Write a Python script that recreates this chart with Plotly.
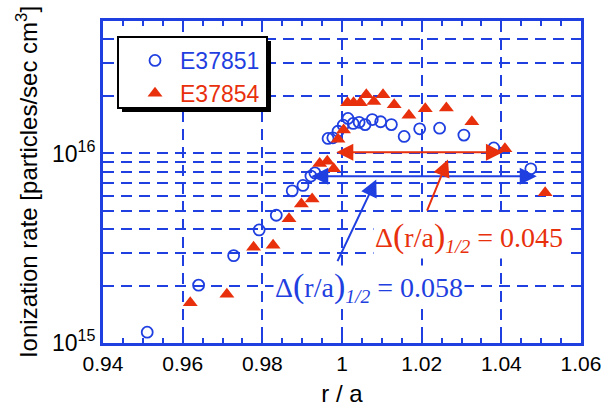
import plotly.graph_objects as go

# ---- data ----
r_e37851 = [0.9511, 0.9640, 0.9728, 0.9792, 0.9835, 0.9875, 0.9902, 0.9922, 0.9932,
            0.9965, 0.9977, 0.9990, 1.0003, 1.0015, 1.0028, 1.0043, 1.0058, 1.0076,
            1.0097, 1.0124, 1.0156, 1.0195, 1.0245, 1.0306, 1.0381, 1.0474]
s_e37851 = [1.14e15, 2.02e15, 2.89e15, 3.95e15, 4.72e15, 6.35e15, 6.78e15, 7.6e15, 7.9e15,
            1.20e16, 1.21e16, 1.31e16, 1.41e16, 1.53e16, 1.44e16, 1.46e16, 1.42e16, 1.51e16,
            1.47e16, 1.42e16, 1.23e16, 1.35e16, 1.36e16, 1.25e16, 1.07e16, 8.3e15]

r_e37854 = [0.9619, 0.9711, 0.9778, 0.9827, 0.9867, 0.9898, 0.9925, 0.9944, 0.9963, 0.9979,
            0.9990, 1.0004, 1.0014, 1.0029, 1.0046, 1.0061, 1.0080, 1.0103, 1.0131, 1.0168,
            1.0209, 1.0262, 1.0326, 1.0409, 1.0510]
s_e37854 = [1.63e15, 1.81e15, 3.20e15, 3.28e15, 4.52e15, 5.42e15, 5.76e15, 8.85e15, 9.1e15, 8.3e15,
            1.19e16, 1.33e16, 1.85e16, 1.85e16, 1.85e16, 2.04e16, 1.88e16, 2.04e16, 1.81e16, 1.59e16,
            1.72e16, 1.74e16, 1.47e16, 1.06e16, 6.2e15]

x_tickvals = [0.94, 0.96, 0.98, 1.00, 1.02, 1.04, 1.06]
x_ticktext = ["0.94", "0.96", "0.98", "1", "1.02", "1.04", "1.06"]
y_tickvals = [1e15, 1e16]
y_ticktext = ["10<sup>15</sup>", "10<sup>16</sup>"]
y_minor = [k * 1e15 for k in range(2, 10)] + [k * 1e16 for k in range(2, 6)]

BLUE = "#1f3fe0"
RED = "#e8300c"

fig = go.Figure()
fig.add_trace(go.Scatter(
    x=r_e37851, y=s_e37851, mode="markers",
    name='<span style="color:%s">E37851</span>' % BLUE,
    marker=dict(symbol="circle-open", size=11, color=BLUE, line=dict(width=1.8, color=BLUE)),
))
fig.add_trace(go.Scatter(
    x=r_e37854, y=s_e37854, mode="markers",
    name='<span style="color:%s">E37854</span>' % RED,
    marker=dict(symbol="triangle-up", size=13, color=RED),
))

W, H = 613, 407
L, R, T, B = 103, 32, 21, 64
pw, ph = W - L - R, H - T - B

def px2paper(x, y):
    return (x - L) / pw, 1 - (y - T) / ph

# legend box + shadow
sx0, sy0 = px2paper(122, 41)
sx1, sy1 = px2paper(271, 112)
bx0, by0 = px2paper(118, 37)
bx1, by1 = px2paper(267, 108)
shapes = [
    dict(type="rect", xref="paper", yref="paper", x0=sx0, x1=sx1, y0=sy1, y1=sy0,
         fillcolor="black", line=dict(width=0), layer="above"),
    dict(type="rect", xref="paper", yref="paper", x0=bx0, x1=bx1, y0=by1, y1=by0,
         fillcolor="white", line=dict(width=2, color="black"), layer="above"),
]

def delta_label(value):
    return ('Δ<span style="font-size:34px">(</span>r/a<span style="font-size:34px">)</span>'
            '<sub><i>1/2</i></sub> = ' + value)

annotations = [
    # red double arrow
    dict(x=1.0404, y=16.007, ax=0.9982, ay=16.007, xref="x", yref="y", axref="x", ayref="y",
         showarrow=True, arrowhead=2, startarrowhead=2, arrowside="end+start",
         arrowsize=1.7, startarrowsize=1.7, arrowwidth=2, arrowcolor=RED, text=""),
    # blue double arrow
    dict(x=1.0489, y=15.880, ax=0.9919, ay=15.880, xref="x", yref="y", axref="x", ayref="y",
         showarrow=True, arrowhead=2, startarrowhead=2, arrowside="end+start",
         arrowsize=1.7, startarrowsize=1.7, arrowwidth=2, arrowcolor=BLUE, text=""),
    # blue pointer
    dict(x=1.0086, y=15.863, ax=0.9987, ay=15.424, xref="x", yref="y", axref="x", ayref="y",
         showarrow=True, arrowhead=2, arrowsize=1.7, arrowwidth=2, arrowcolor=BLUE, text=""),
    # red pointer
    dict(x=1.0266, y=15.968, ax=1.0212, ay=15.690, xref="x", yref="y", axref="x", ayref="y",
         showarrow=True, arrowhead=2, arrowsize=1.7, arrowwidth=2, arrowcolor=RED, text=""),
    dict(x=1.0319, y=15.5615, xref="x", yref="y", showarrow=False,
         text=delta_label("0.045"), bgcolor="white",
         font=dict(family="Liberation Serif", size=28, color=RED)),
    dict(x=1.0067, y=15.297, xref="x", yref="y", showarrow=False,
         text=delta_label("0.058"), bgcolor="white",
         font=dict(family="Liberation Serif", size=28, color=BLUE)),
]

lx, ly = px2paper(130, 39)
fig.update_layout(
    width=W, height=H, margin=dict(l=L, r=R, t=T, b=B),
    paper_bgcolor="white", plot_bgcolor="white",
    font=dict(family="Liberation Sans, Arial", size=20, color="black"),
    showlegend=True,
    legend=dict(x=lx, y=ly, xanchor="left", yanchor="top", bgcolor="rgba(0,0,0,0)",
                borderwidth=0, font=dict(size=23), itemwidth=40, tracegroupgap=0),
    shapes=shapes, annotations=annotations,
)
fig.update_xaxes(
    range=[0.94, 1.06], tickmode="array", tickvals=x_tickvals, ticktext=x_ticktext,
    ticks="inside", ticklen=7, tickwidth=2, tickcolor=BLUE, automargin=False,
    showline=True, linewidth=3, linecolor=BLUE, mirror="ticks",
    showgrid=True, gridcolor=BLUE, gridwidth=1.5, griddash="11px,7px", zeroline=False,
    minor=dict(dtick=0.005, tick0=0.94, ticks="inside", ticklen=5, tickwidth=1.5,
               tickcolor=BLUE, showgrid=False),
    tickfont=dict(size=21, color="black"),
    title=dict(text="r / a", font=dict(size=24), standoff=14),
)
fig.update_yaxes(
    type="log", range=[15, 16.699], tickmode="array", tickvals=y_tickvals, ticktext=y_ticktext,
    ticks="inside", ticklen=7, tickwidth=2, tickcolor=BLUE, automargin=False,
    showline=True, linewidth=3, linecolor=BLUE, mirror="ticks",
    showgrid=True, gridcolor=BLUE, gridwidth=1.5, griddash="11px,7px", zeroline=False,
    minor=dict(tickmode="array", tickvals=y_minor, ticks="inside", ticklen=7, tickwidth=1.5,
               tickcolor=BLUE, showgrid=True, gridcolor=BLUE, gridwidth=1.5, griddash="11px,7px"),
    tickfont=dict(size=23, color="black"),
    title=dict(text="Ionization rate [particles/sec cm<sup>3</sup>]", font=dict(size=24), standoff=8),
)

fig.write_html("out.html")
